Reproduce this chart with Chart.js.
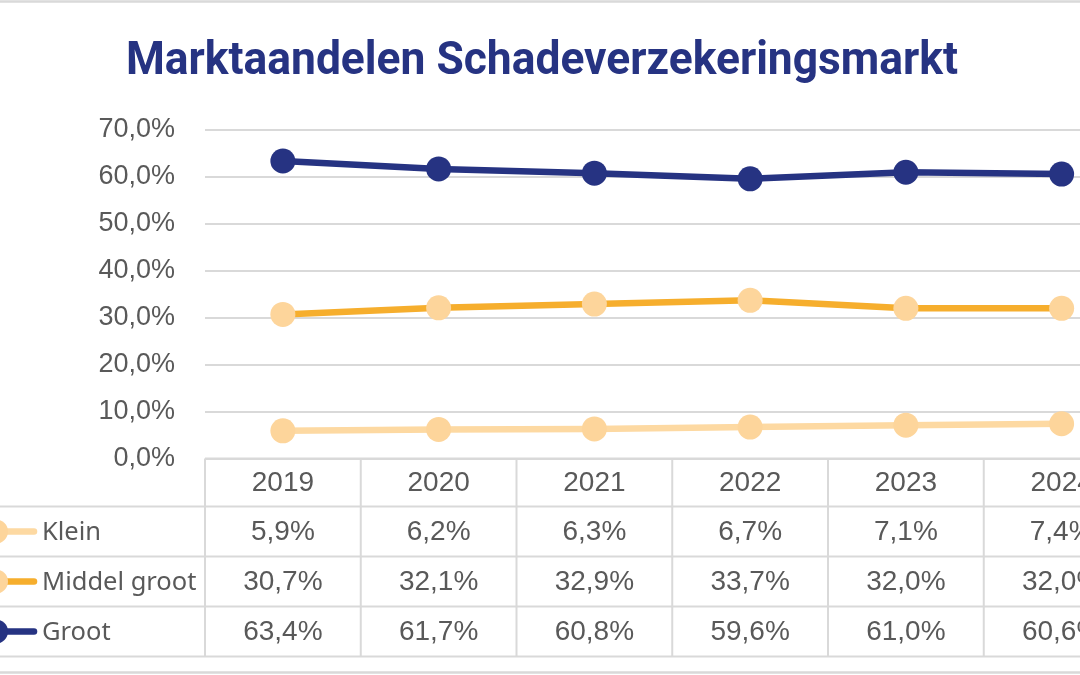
<!DOCTYPE html>
<html><head><meta charset="utf-8">
<script src="https://cdn.jsdelivr.net/npm/chart.js@4.4.1/dist/chart.umd.min.js"></script>
<style>
html,body{margin:0;padding:0;overflow:hidden;background:#fff;width:1080px;height:675px;}
#wrap{position:absolute;left:-70px;top:0;width:1222px;height:675px;}
</style></head><body>
<div id="wrap"><canvas id="c" width="1222" height="675"></canvas></div>
<script>
const years = ['2019','2020','2021','2022','2023','2024'];
const seriesNames = ['Klein','Middel groot','Groot'];
const klein = [5.9, 6.2, 6.3, 6.7, 7.1, 7.4];
const middelGroot = [30.7, 32.1, 32.9, 33.7, 32.0, 32.0];
const groot = [63.4, 61.7, 60.8, 59.6, 61.0, 60.6];
const yTicks = [0, 10, 20, 30, 40, 50, 60, 70];
const titleText = 'Marktaandelen Schadeverzekeringsmarkt';

const NAVY = '#263382';
const ORANGE = '#F6AE2D';
const PEACH = '#FDD59B';
const PEACH_LINE = '#FDD9A2';
const GRID = '#D9D9D9';
const TEXT = '#595959';
const fmt = v => v.toFixed(1).replace('.', ',') + '%';

const seriesValues = [klein, middelGroot, groot];
const seriesLine = [PEACH_LINE, ORANGE, NAVY];
const seriesPoint = [PEACH, PEACH, NAVY];

const tablePlugin = {
  id: 'dataTable',
  afterDraw(chart) {
    const ctx = chart.ctx;
    const xs = chart.scales.x;
    const ys = chart.scales.y;
    const ca = chart.chartArea;
    const colW = xs.getPixelForValue(1) - xs.getPixelForValue(0);
    const top = ys.getPixelForValue(0);
    const headerB = top + 48;
    const rowH = 50;
    const tableLeft = 40;
    ctx.save();
    ctx.strokeStyle = GRID;
    ctx.lineWidth = 2;
    ctx.beginPath();
    ctx.moveTo(ca.left, top); ctx.lineTo(chart.width, top);
    for (let r = 0; r <= 3; r++) {
      const y = headerB + r * rowH;
      ctx.moveTo(tableLeft, y); ctx.lineTo(chart.width, y);
    }
    for (let k = 0; k <= years.length; k++) {
      const x = ca.left + k * colW;
      ctx.moveTo(x, top); ctx.lineTo(x, headerB + 3 * rowH);
    }
    ctx.moveTo(tableLeft, headerB); ctx.lineTo(tableLeft, headerB + 3 * rowH);
    ctx.stroke();

    ctx.fillStyle = TEXT;
    ctx.textAlign = 'center';
    ctx.textBaseline = 'middle';
    ctx.font = '28px "Liberation Sans", Arial, sans-serif';
    years.forEach((y, i) => ctx.fillText(y, xs.getPixelForValue(i), (top + headerB) / 2 + 1));
    seriesValues.forEach((vals, r) => {
      const cy = headerB + r * rowH + rowH / 2 + 1;
      vals.forEach((v, i) => ctx.fillText(fmt(v), xs.getPixelForValue(i), cy));
    });
    ctx.textAlign = 'left';
    ctx.font = '25.5px "Noto Sans", sans-serif';
    seriesNames.forEach((name, r) => {
      const cy = headerB + r * rowH + rowH / 2;
      ctx.strokeStyle = seriesLine[r];
      ctx.lineWidth = 6.5;
      ctx.lineCap = 'round';
      ctx.beginPath(); ctx.moveTo(67, cy); ctx.lineTo(104, cy); ctx.stroke();
      ctx.fillStyle = seriesPoint[r];
      ctx.beginPath(); ctx.arc(66, cy, 12, 0, Math.PI * 2); ctx.fill();
      ctx.fillStyle = TEXT;
      ctx.fillText(name, 112, cy + 1);
    });
    // title (horizontally condensed)
    ctx.font = 'bold 46px Roboto, "Liberation Sans", sans-serif';
    ctx.fillStyle = NAVY;
    ctx.textAlign = 'center';
    ctx.textBaseline = 'alphabetic';
    const w = ctx.measureText(titleText).width;
    const sx = 832 / w;
    ctx.save();
    ctx.translate(612, 73.5);
    ctx.scale(sx, 1);
    ctx.fillText(titleText, 0, 0);
    ctx.restore();
    // outer chart border
    ctx.strokeStyle = GRID;
    ctx.lineWidth = 2.5;
    ctx.strokeRect(2, 1.5, chart.width - 4, 671);
    ctx.restore();
  }
};

new Chart(document.getElementById('c'), {
  type: 'line',
  data: {
    labels: years,
    datasets: seriesNames.map((name, i) => ({
      label: name,
      data: seriesValues[i],
      borderColor: seriesLine[i],
      backgroundColor: seriesPoint[i],
      pointBackgroundColor: seriesPoint[i],
      pointBorderColor: seriesPoint[i],
      pointBorderWidth: 0,
      pointRadius: 12.5,
      borderWidth: 6.5,
      tension: 0,
      clip: false
    }))
  },
  options: {
    responsive: false,
    animation: false,
    devicePixelRatio: 1,
    layout: { padding: { left: 0, right: 5, top: 130, bottom: 0 } },
    plugins: {
      legend: { display: false },
      tooltip: { enabled: false },
      title: { display: false }
    },
    scales: {
      x: {
        type: 'category',
        offset: true,
        grid: { display: false },
        border: { display: false },
        ticks: { display: false },
        afterFit(scale) { scale.height = 675 - 458.5; }
      },
      y: {
        min: 0, max: 70,
        afterBuildTicks(scale) { scale.ticks = yTicks.map(v => ({ value: v })); },
        grid: { color: GRID, lineWidth: 2, drawTicks: false },
        border: { display: false },
        ticks: {
          color: TEXT,
          padding: 30,
          font: { family: '"Liberation Sans", Arial, sans-serif', size: 27 },
          callback: v => fmt(v)
        },
        afterFit(scale) { scale.width = 275; }
      }
    }
  },
  plugins: [tablePlugin]
});
</script>
</body></html>
